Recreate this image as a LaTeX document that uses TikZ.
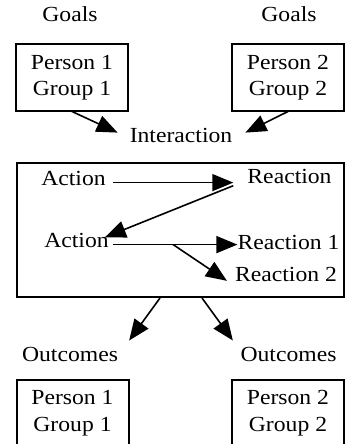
\documentclass[tikz,border=0pt]{standalone}
\usepackage{fontspec}
\setmainfont[FakeStretch=1.1]{Liberation Serif}
\usetikzlibrary{arrows.meta,calc}
\tikzset{
  lbl/.style={inner sep=0pt, anchor=base, text height=0.7em, text depth=0.22em},
  pgbox/.style={draw, line width=2pt, align=center, minimum width=112pt, minimum height=66pt, inner sep=0pt},
  arr/.style={-{Triangle[length=21pt,width=17pt]}, line width=1.6pt}
}

\begin{document}
\begin{tikzpicture}[x=1pt, y=-1pt, font=\fontsize{21.5}{26.5}\selectfont]
\useasboundingbox (0,0) rectangle (353,444);
% Goals of both sides
\node[lbl] (goalL) at (70,22) {Goals};
\node[lbl] (goalR) at (289,22) {Goals};
\node[pgbox] (p1) at (72,77.5) {Person 1\\Group 1};
\node[pgbox] (p2) at (288,77.5) {Person 2\\Group 2};
\node[lbl] (inter) at (181,142) {Interaction};
\draw[arr] (p1.south) -- ([xshift=-12pt, yshift=7pt]inter.west);
\draw[arr] (p2.south) -- ([xshift=13pt, yshift=7pt]inter.east);
% Interaction frame
\node[draw, line width=2pt, minimum width=327pt, minimum height=134pt] (frame) at (180.5,230) {};
\node[lbl] (act1) at (73.5,185) {Action};
\node[lbl] (react) at (289.5,183.3) {Reaction};
\node[lbl] (act2) at (76.5,247) {Action};
\node[lbl] (react1) at (288.5,249) {Reaction 1};
\node[lbl] (react2) at (286,281.7) {Reaction 2};
\draw[arr, shorten <=7pt, shorten >=14pt] (act1.east) -- (act1.east -| react.west);
\draw[arr] ([xshift=-14pt]react.south west) -- ([xshift=-4pt, yshift=2.5pt]act2.north east);
\draw[arr, shorten <=4pt] (act2.east) -- (act2.east -| react1.west);
\coordinate (fork) at ($(act2.east)!0.5!(act2.east -| react1.west)$);
\draw[arr] (fork) -- ([xshift=-8pt, yshift=-1.5pt]react2.west);
% Outcomes of both sides
\node[lbl] (outL) at (70,361.7) {Outcomes};
\node[lbl] (outR) at (288.5,361.7) {Outcomes};
\draw[arr] ([xshift=-20.5pt]frame.south) -- ([xshift=11pt, yshift=14pt]outL.north east);
\draw[arr] ([xshift=21.5pt]frame.south) -- ([xshift=-7.5pt, yshift=14pt]outR.north west);
\node[pgbox] (o1) at (72.5,413) {Person 1\\Group 1};
\node[pgbox] (o2) at (288,413) {Person 2\\Group 2};
\end{tikzpicture}
\end{document}
